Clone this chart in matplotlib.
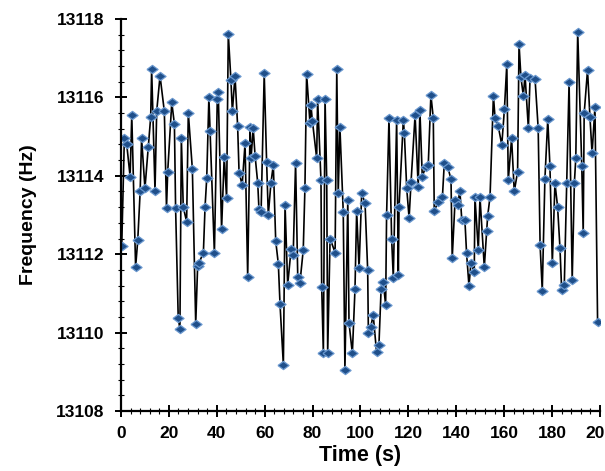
import matplotlib
matplotlib.use('Agg')
import matplotlib.pyplot as plt
from matplotlib.ticker import MultipleLocator

plt.rcParams['font.family'] = ['Liberation Sans', 'DejaVu Sans']
plt.rcParams['font.weight'] = 'bold'

# readings taken off the trace (time in s, frequency in Hz)
time_s = [0.3, 1.4, 2.4, 3.8, 4.5, 6.1, 7.0, 8.0, 8.6, 10.0, 11.4, 12.4, 12.8,
          14.2, 14.9, 16.3, 18.1, 19.0, 19.5, 21.2, 22.3, 22.8, 23.9, 24.6, 25.2,
          26.0, 27.4, 28.1, 29.8, 31.2, 32.0, 32.6, 34.4, 35.1, 35.8, 36.7, 37.2,
          39.0, 40.2, 40.6, 42.0, 43.1, 44.1, 44.8, 45.9, 46.5, 47.6, 48.7, 49.3,
          50.6, 51.8, 52.9, 53.9, 54.3, 55.2, 56.0, 57.1, 57.6, 58.5, 59.8, 60.8,
          61.5, 62.6, 63.6, 64.6, 65.7, 66.4, 67.8, 68.5, 69.6, 71.0, 71.9, 72.9,
          73.8, 74.7, 76.1, 76.8, 77.5, 78.9, 79.3, 79.9, 81.7, 82.1, 83.5, 83.8,
          84.5, 85.2, 85.9, 86.3, 87.3, 89.4, 90.1, 90.7, 91.4, 92.8, 93.5, 94.7,
          95.2, 96.6, 97.7, 98.4, 99.4, 100.5, 101.9, 103.0, 103.3, 104.3, 105.3,
          106.7, 107.7, 108.6, 109.5, 110.5, 110.9, 111.9, 113.0, 113.7, 115.1,
          115.8, 116.1, 117.9, 118.3, 119.3, 120.3, 121.1, 122.8, 124.1, 124.8,
          125.8, 127.2, 128.3, 129.4, 130.4, 130.8, 132.5, 134.2, 135.0, 136.4,
          137.8, 138.3, 139.5, 140.6, 141.5, 142.3, 143.6, 144.3, 145.3, 146.1,
          147.5, 147.8, 149.2, 149.9, 151.7, 152.7, 153.1, 154.1, 155.5, 156.2,
          157.5, 159.0, 160.1, 161.1, 161.7, 163.1, 164.2, 165.6, 166.2, 167.0,
          168.0, 168.7, 170.1, 170.8, 172.9, 174.2, 175.0, 175.9, 177.0, 178.2,
          179.1, 180.1, 181.2, 182.3, 183.3, 184.0, 185.1, 186.1, 187.1, 188.4,
          189.3, 189.9, 190.7, 192.4, 193.0, 193.4, 194.8, 195.8, 196.7, 197.9,
          199.0]
freq_hz = [13112.2, 13114.96, 13114.8, 13113.98, 13115.55, 13111.67, 13112.36,
           13113.6, 13114.96, 13113.68, 13114.74, 13115.5, 13116.72, 13113.62,
           13115.64, 13116.55, 13115.64, 13113.17, 13114.1, 13115.87, 13115.32,
           13113.17, 13110.36, 13110.1, 13114.96, 13113.2, 13112.83, 13115.61,
           13114.17, 13110.22, 13111.7, 13111.78, 13112.04, 13113.21, 13113.94,
           13116.0, 13115.13, 13112.02, 13115.95, 13116.15, 13112.64, 13114.49,
           13113.43, 13117.62, 13116.44, 13115.64, 13116.55, 13115.27, 13114.08,
           13113.77, 13114.83, 13111.43, 13115.24, 13114.45, 13115.21, 13114.5,
           13113.81, 13113.15, 13113.08, 13116.61, 13114.36, 13113.0, 13113.81,
           13114.28, 13112.34, 13111.75, 13110.72, 13109.17, 13113.26, 13111.21,
           13112.12, 13111.98, 13114.33, 13111.43, 13111.26, 13112.11, 13113.68,
           13116.6, 13115.35, 13115.81, 13115.41, 13114.45, 13115.95, 13113.89,
           13111.17, 13109.47, 13115.97, 13113.89, 13109.47, 13112.4, 13112.04,
           13116.72, 13113.55, 13115.25, 13113.08, 13109.05, 13113.38, 13110.25,
           13109.47, 13111.1, 13113.11, 13111.64, 13113.55, 13113.31, 13111.6,
           13109.98, 13110.15, 13110.45, 13109.51, 13109.68, 13111.1, 13111.3,
           13110.7, 13113.0, 13115.47, 13112.4, 13111.4, 13115.42, 13111.47,
           13113.21, 13115.42, 13115.1, 13113.68, 13112.92, 13113.83, 13115.55,
           13113.72, 13115.68, 13113.98, 13114.23, 13114.28, 13116.06, 13115.47,
           13113.11, 13113.34, 13113.45, 13114.33, 13114.23, 13113.91, 13111.9,
           13113.38, 13113.26, 13113.62, 13112.87, 13112.87, 13112.02, 13111.19,
           13111.77, 13111.55, 13113.45, 13112.11, 13113.45, 13111.67, 13112.6,
           13112.97, 13113.47, 13116.04, 13115.47, 13115.27, 13114.79, 13115.7,
           13116.85, 13113.88, 13114.96, 13113.6, 13114.1, 13117.36, 13116.51,
           13116.04, 13116.57, 13115.21, 13116.49, 13116.46, 13115.21, 13112.23,
           13111.07, 13113.91, 13115.44, 13114.25, 13111.77, 13113.81, 13113.21,
           13112.15, 13111.09, 13111.21, 13113.81, 13116.38, 13111.34, 13113.81,
           13114.45, 13117.68, 13114.25, 13112.53, 13115.59, 13116.7, 13115.51,
           13114.57, 13115.75, 13110.28]

# slightly wide diamond like the original markers
diamond = [(-1.35, 0), (0, 1), (1.35, 0), (0, -1), (-1.35, 0)]

fig = plt.figure(figsize=(6.05, 4.71), dpi=100)
ax = fig.add_axes([0.2, 0.1274, 0.7917, 0.8323])

ax.plot(time_s, freq_hz, color='black', linewidth=1.2,
        marker=diamond, markersize=8, markerfacecolor='#1f4f8a',
        markeredgecolor='#6a98cf', markeredgewidth=0.9)

ax.set_xlim(0, 200)
ax.set_ylim(13108, 13118)
ax.xaxis.set_major_locator(MultipleLocator(20))
ax.xaxis.set_minor_locator(MultipleLocator(4))
ax.yaxis.set_major_locator(MultipleLocator(2))
ax.yaxis.set_minor_locator(MultipleLocator(0.4))
ax.yaxis.set_major_formatter(plt.FuncFormatter(lambda v, p: f'{v:.0f}'))

for s in ['top', 'right']:
    ax.spines[s].set_visible(False)
for s in ['left', 'bottom']:
    ax.spines[s].set_linewidth(1.6)

ax.tick_params(which='major', direction='inout', length=8, width=1.4,
               labelsize=12.5)
ax.tick_params(axis='y', which='major', pad=8)
ax.tick_params(axis='x', which='major', pad=7)
ax.tick_params(which='minor', direction='inout', length=4, width=0.8)
for lab in ax.get_xticklabels() + ax.get_yticklabels():
    lab.set_fontweight('bold')

ax.set_xlabel('Time (s)', fontsize=15.5, fontweight='bold', labelpad=3)
ax.set_ylabel('Frequency (Hz)', fontsize=14, fontweight='bold', labelpad=14)

fig.savefig('out.png', dpi=100)
